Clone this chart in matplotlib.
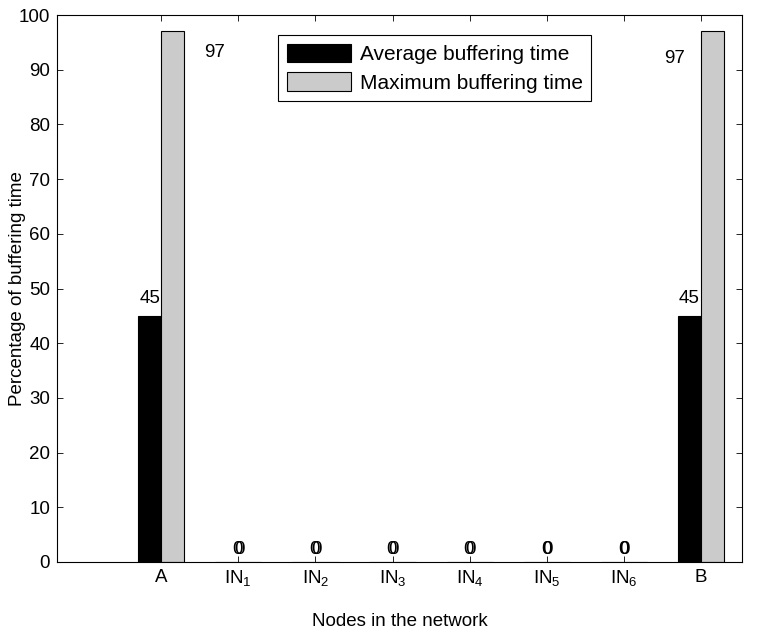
import numpy as np
import matplotlib
matplotlib.use('Agg')
from matplotlib import pyplot as plt

plt.rcParams['font.family'] = ['Liberation Sans', 'DejaVu Sans']
plt.rcParams['mathtext.fontset'] = 'custom'
plt.rcParams['mathtext.rm'] = 'Liberation Sans'

nodes = ['A', 'IN$_\\mathregular{1}$', 'IN$_\\mathregular{2}$', 'IN$_\\mathregular{3}$',
         'IN$_\\mathregular{4}$', 'IN$_\\mathregular{5}$', 'IN$_\\mathregular{6}$', 'B']
avg_time = [45, 0, 0, 0, 0, 0, 0, 45]
max_time = [97, 0, 0, 0, 0, 0, 0, 97]

# value labels as they sit in the original figure: (text, group, x offset, y centre)
avg_labels = [('45', 0, -0.15, 48.2), ('0', 1, -0.01, 2.2), ('0', 2, -0.01, 2.2),
              ('0', 3, -0.01, 2.2), ('0', 4, -0.01, 2.2), ('0', 5, -0.01, 2.2),
              ('0', 6, -0.01, 2.2), ('45', 7, -0.15, 48.2)]
max_labels = [('97', 0, 0.69, 93.2), ('0', 1, 0.01, 2.2), ('0', 2, 0.01, 2.2),
              ('0', 3, 0.01, 2.2), ('0', 4, 0.01, 2.2), ('0', 5, 0.01, 2.2),
              ('0', 6, 0.01, 2.2), ('97', 7, -0.34, 92.1)]

x = np.arange(len(nodes))
w = 0.3
fs = 13.5

fig = plt.figure(figsize=(7.68, 6.34), dpi=100)
ax = fig.add_axes([57/768, 1 - 562/634, 685/768, 547/634])

ax.bar(x - w/2, avg_time, w, color='black', edgecolor='black', linewidth=0.8,
       label='Average buffering time')
ax.bar(x + w/2, max_time, w, color='#cbcbcb', edgecolor='black', linewidth=0.8,
       label='Maximum buffering time')

for txt, i, dx, y in avg_labels + max_labels:
    ax.text(x[i] + dx, y, txt, ha='center', va='center', fontsize=fs)

ax.set_xlim(-1.35, 7.53)
ax.set_ylim(0, 100)
ax.set_xticks(x)
ax.set_xticklabels(nodes, fontsize=fs)
ax.set_yticks(np.arange(0, 101, 10))
ax.tick_params(axis='y', labelsize=fs)
ax.tick_params(direction='in', top=True, right=True, length=4, width=0.6, pad=5)
for s in ax.spines.values():
    s.set_linewidth(0.8)

ax.set_xlabel('Nodes in the network', fontsize=fs)
ax.xaxis.set_label_coords(0.5, -0.094)
ax.set_ylabel('Percentage of buffering time', fontsize=fs, va='center')
ax.yaxis.set_label_coords(-0.057, 0.5)

leg = ax.legend(loc='upper left', bbox_to_anchor=(0.323, 0.963), fontsize=15,
                fancybox=False, framealpha=1, edgecolor='black',
                handlelength=3.1, handleheight=1.0, handletextpad=0.4,
                borderpad=0.4, labelspacing=0.4, borderaxespad=0)
leg.get_frame().set_linewidth(0.8)

fig.savefig('out.png', dpi=100)
